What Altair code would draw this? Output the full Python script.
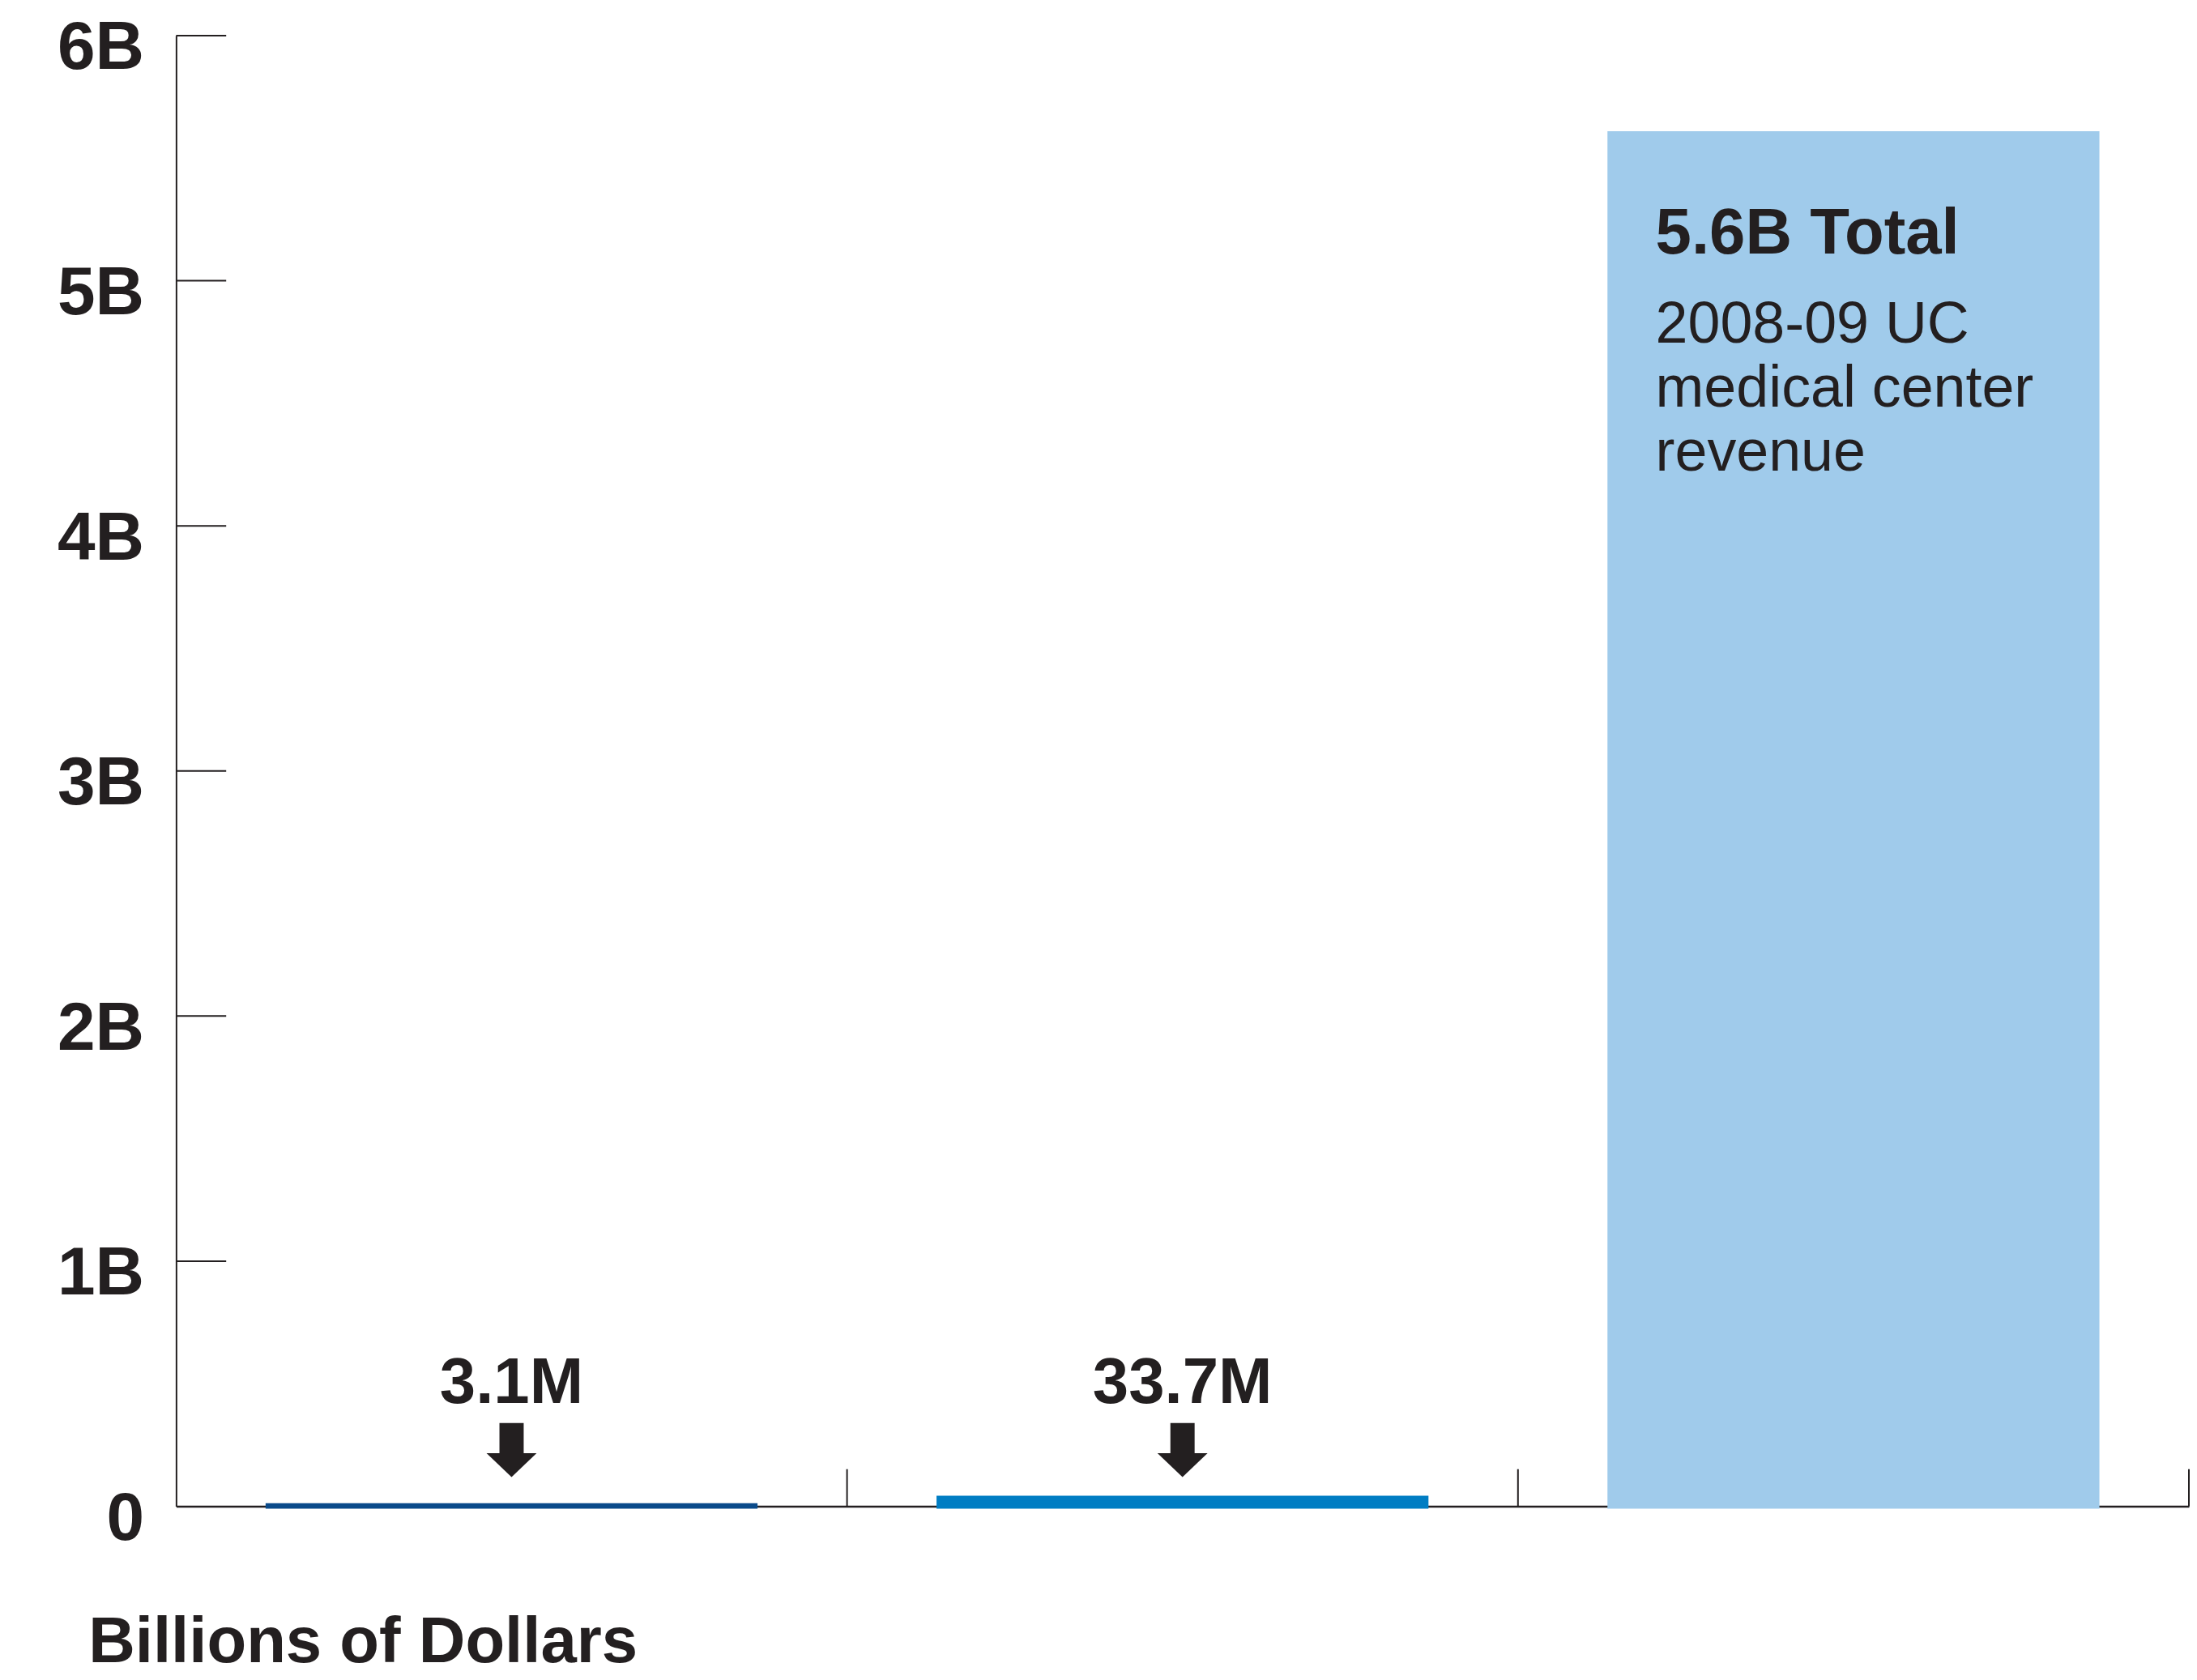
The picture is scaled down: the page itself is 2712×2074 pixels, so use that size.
import altair as alt
import pandas as pd

# ---------------- data ----------------
categories = ["Item 1", "Item 2", "Item 3"]
values_billions = [0.0031, 0.0337, 5.6]
bar_colors = ["#0a4a8a", "#007dc3", "#a0cbeb"]
value_labels = ["3.1M", "33.7M", ""]
y_ticks = [0, 1, 2, 3, 4, 5, 6]
total_title = "5.6B Total"
total_lines = ["2008-09 UC", "medical center", "revenue"]
axis_title = "Billions of Dollars"

# annotation anchors (data units, billions)
label_y = 0.42
arrow_top = 0.34
arrow_neck = 0.2
arrow_head = 0.168

INK = "#231f20"
FONT = "Liberation Sans"

W, H = 2492, 1821

df = pd.DataFrame({"cat": categories, "value": values_billions})
df_lab = pd.DataFrame({"cat": categories, "label": value_labels})
df_lab = df_lab[df_lab["label"] != ""].copy()
df_lab["value"] = label_y
df_lab["top"] = arrow_top
df_lab["neck"] = arrow_neck
df_lab["head"] = arrow_head

df_yt = pd.DataFrame({"value": y_ticks[1:]})
df_xt = pd.DataFrame({"cat": categories})
df_tot = pd.DataFrame({"cat": [categories[-1]], "value": [values_billions[-1]],
                       "title": [total_title], "desc": ["\n".join(total_lines)]})

xscale = alt.Scale(domain=categories, paddingInner=0, paddingOuter=0)
yscale = alt.Scale(domain=[0, 6], nice=False, zero=True)

x_axis = alt.Axis(labels=False, ticks=False, domain=True, domainColor=INK,
                  domainWidth=2.5, title=axis_title, titleX=-109, titleY=192,
                  titleAngle=0, titleAlign="left", titleBaseline="alphabetic",
                  titleFont=FONT, titleFontSize=80, titleFontWeight="bold",
                  titleColor=INK, grid=False)
y_axis = alt.Axis(values=y_ticks,
                  labelExpr="datum.value == 0 ? '0' : datum.value + 'B'",
                  grid=False, ticks=False, domain=True, domainColor=INK,
                  domainWidth=2, labelFont=FONT, labelFontSize=84,
                  labelFontWeight="bold", labelColor=INK, labelPadding=40,
                  labelOffset=16, title=None)


def X(field="cat:N", **kw):
    return alt.X(field, scale=xscale, axis=x_axis, **kw)


def Y(field="value:Q"):
    return alt.Y(field, scale=yscale, axis=y_axis)


color_scale = alt.Scale(domain=categories, range=bar_colors)

bars = alt.Chart(df).mark_bar(width=alt.RelativeBandSize(0.726), strokeWidth=6).encode(
    x=X(),
    y=Y(),
    color=alt.Color("cat:N", scale=color_scale, legend=None),
    stroke=alt.Stroke("cat:N", scale=color_scale, legend=None),
)

ytick_rules = alt.Chart(df_yt).mark_rule(color=INK, strokeWidth=2).encode(
    y=Y(),
    x=alt.value(0), x2=alt.value(62),
)

xtick_rules = alt.Chart(df_xt).mark_rule(color=INK, strokeWidth=2).encode(
    x=X(bandPosition=1),
    y=alt.value(H - 46), y2=alt.value(H),
)

value_text = alt.Chart(df_lab).mark_text(
    font=FONT, fontSize=80, fontWeight="bold", color=INK, align="center", baseline="alphabetic"
).encode(
    x=X(),
    y=Y(),
    text="label:N",
)

arrow_shaft = alt.Chart(df_lab).mark_rule(color=INK, strokeWidth=30).encode(
    x=X(),
    y=Y("top:Q"),
    y2="neck:Q",
)

arrow_tip = alt.Chart(df_lab).mark_point(
    shape="M-1,-0.48L1,-0.48L0,0.48Z", size=3844, filled=True, color=INK, opacity=1, strokeWidth=0
).encode(
    x=X(),
    y=Y("head:Q"),
)

tot_title = alt.Chart(df_tot).mark_text(
    font=FONT, fontSize=80, fontWeight="bold", color=INK, align="left",
    baseline="alphabetic", dy=148
).encode(
    x=X(bandPosition=0.205),
    y=Y(),
    text="title:N",
)

tot_desc = alt.Chart(df_tot).mark_text(
    font=FONT, fontSize=72, color=INK, align="left", baseline="alphabetic",
    dy=259, lineBreak="\n", lineHeight=79
).encode(
    x=X(bandPosition=0.205),
    y=Y(),
    text="desc:N",
)

chart = alt.layer(
    bars, ytick_rules, xtick_rules, value_text, arrow_shaft, arrow_tip, tot_title, tot_desc
).properties(
    width=W, height=H,
    autosize=alt.AutoSizeParams(type="none"),
    padding={"left": 210, "top": 33, "right": 2, "bottom": 211},
    background="white",
).configure_view(stroke=None)

chart.save("out.html", embed_options={"renderer": "svg", "actions": False})
